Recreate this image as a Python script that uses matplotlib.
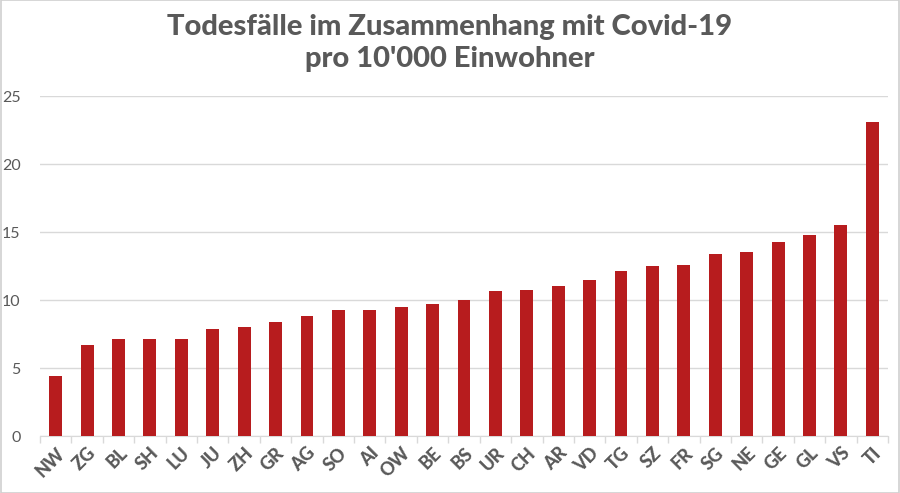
import matplotlib
matplotlib.use('Agg')
import matplotlib.pyplot as plt
from matplotlib.patches import Rectangle

kantone = ["NW", "ZG", "BL", "SH", "LU", "JU", "ZH", "GR", "AG", "SO", "AI", "OW", "BE",
           "BS", "UR", "CH", "AR", "VD", "TG", "SZ", "FR", "SG", "NE", "GE", "GL", "VS", "TI"]
todesfaelle = [4.4, 6.7, 7.15, 7.15, 7.15, 7.9, 8.05, 8.4, 8.85, 9.25, 9.3, 9.5, 9.7,
               10.0, 10.65, 10.75, 11.0, 11.45, 12.15, 12.5, 12.55, 13.4, 13.5, 14.25,
               14.8, 15.55, 23.1]
y_ticks = [0, 5, 10, 15, 20, 25]

grau = "#595959"
rot = "#B71C1E"

plt.rcParams['font.family'] = ['Lato', 'DejaVu Sans']

fig = plt.figure(figsize=(9, 4.93), dpi=100)
n = len(kantone)
ax = fig.add_axes([40 / 900, 57 / 493, 848 / 900, 340 / 493])

x = list(range(n))
ax.bar(x, todesfaelle, width=0.41, color=rot, zorder=3)

ax.set_xlim(-0.5, n - 0.5)
ax.set_ylim(0, 25)
ax.set_yticks(y_ticks)
ax.set_yticklabels([str(v) for v in y_ticks], fontsize=11.5, color=grau)
ax.tick_params(axis='y', length=0, pad=14)
ax.yaxis.grid(True, color="#D9D9D9", linewidth=1, zorder=0)

ax.set_xticks(x)
ax.set_xticklabels(kantone, rotation=45, ha='right', rotation_mode='anchor',
                   fontsize=13, fontweight='black', color=grau)
ax.tick_params(axis='x', which='major', length=0, pad=6)
ax.set_xticks([i - 0.5 for i in range(n + 1)], minor=True)
ax.tick_params(axis='x', which='minor', length=5, color="#D9D9D9", width=1)

for s in ['top', 'right', 'left']:
    ax.spines[s].set_visible(False)
ax.spines['bottom'].set_color("#D9D9D9")

fig.text(0.5, 0.972, "Todesfälle im Zusammenhang mit Covid-19\npro 10'000 Einwohner",
         ha='center', va='top', fontsize=21, fontweight='black', color=grau,
         linespacing=1.3)

fig.patches.append(Rectangle((0.001, 0.001), 0.998, 0.998, transform=fig.transFigure,
                             fill=False, edgecolor="#D0D0D0", linewidth=1.2))

fig.savefig("out.png", dpi=100)
